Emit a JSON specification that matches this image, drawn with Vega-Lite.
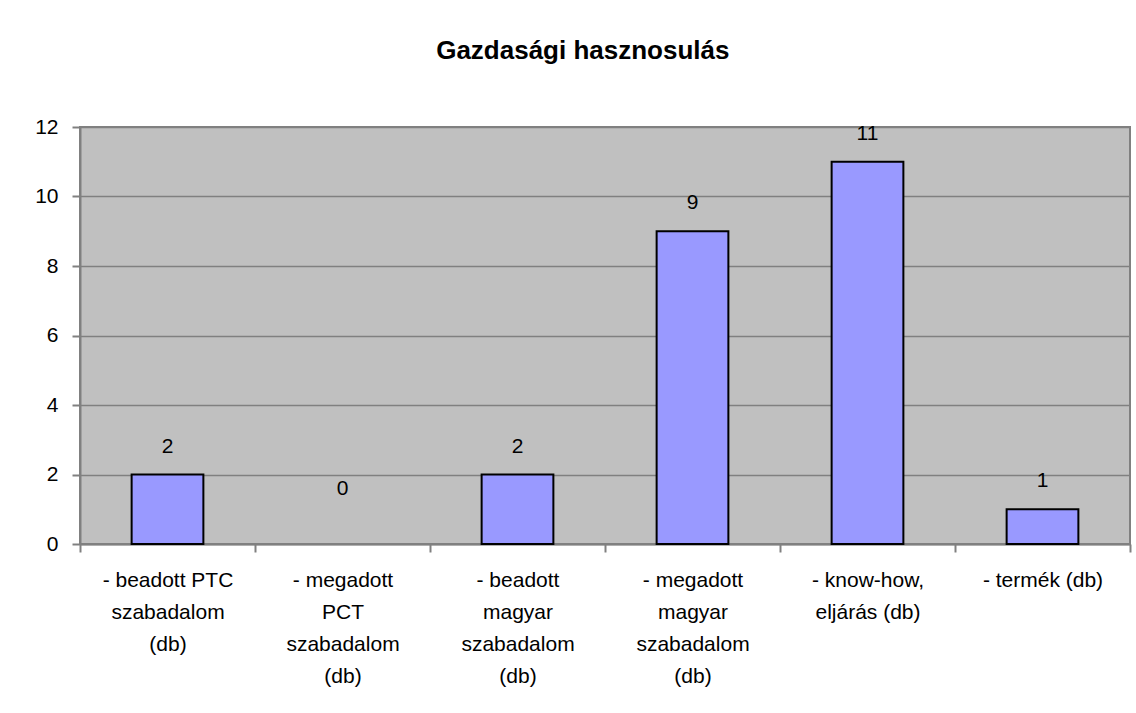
{
  "$schema": "https://vega.github.io/schema/vega-lite/v6.json",
  "width": 1050,
  "height": 417,
  "autosize": {"type": "none"},
  "padding": {"left": 80, "top": 127, "right": 6, "bottom": 169},
  "background": "white",
  "title": {
    "text": "Gazdasági hasznosulás",
    "font": "Liberation Sans",
    "fontSize": 26,
    "fontWeight": "bold",
    "color": "black",
    "anchor": "middle",
    "frame": "bounds",
    "offset": 52
  },
  "config": {
    "view": {"fill": "#C0C0C0", "stroke": "#808080", "strokeWidth": 2},
    "font": "Liberation Sans"
  },
  "data": {
    "values": [
      {"cat": "- beadott PTC\nszabadalom\n(db)", "val": 2},
      {"cat": "- megadott\nPCT\nszabadalom\n(db)", "val": 0},
      {"cat": "- beadott\nmagyar\nszabadalom\n(db)", "val": 2},
      {"cat": "- megadott\nmagyar\nszabadalom\n(db)", "val": 9},
      {"cat": "- know-how,\neljárás (db)", "val": 11},
      {"cat": "- termék (db)", "val": 1}
    ]
  },
  "encoding": {
    "x": {
      "field": "cat",
      "type": "nominal",
      "sort": null,
      "scale": {"paddingInner": 0, "paddingOuter": 0},
      "axis": {
        "title": null,
        "labelAngle": 0,
        "labelExpr": "datum.value ? split(datum.value, '\\n') : ''",
        "labelFont": "Liberation Sans",
        "labelFontSize": 21,
        "labelColor": "black",
        "labelLineHeight": 32,
        "labelPadding": 17,
        "labelBaseline": "top",
        "tickSize": 8,
        "tickBand": "extent",
        "tickColor": "#808080",
        "tickWidth": 2,
        "domainColor": "#808080",
        "domainWidth": 2,
        "grid": false
      }
    },
    "y": {
      "field": "val",
      "type": "quantitative",
      "scale": {"domain": [0, 12]},
      "axis": {
        "title": null,
        "values": [0, 2, 4, 6, 8, 10, 12],
        "labelFont": "Liberation Sans",
        "labelFontSize": 21,
        "labelColor": "black",
        "labelPadding": 14,
        "tickSize": 8,
        "tickColor": "#808080",
        "tickWidth": 2,
        "domainColor": "#808080",
        "domainWidth": 2,
        "grid": true,
        "gridColor": "#808080",
        "gridWidth": 1.5,
        "gridOpacity": 1
      }
    }
  },
  "layer": [
    {
      "mark": {"type": "bar", "width": {"band": 0.41}, "fill": "#9999FF", "stroke": "black", "strokeWidth": 2},
      "encoding": {
        "strokeOpacity": {"condition": {"test": "datum.val == 0", "value": 0}, "value": 1}
      }
    },
    {
      "transform": [{"filter": "datum.val > 0"}],
      "mark": {"type": "text", "baseline": "bottom", "dy": -18, "fontSize": 21, "font": "Liberation Sans", "color": "black"},
      "encoding": {"text": {"field": "val", "type": "quantitative"}}
    },
    {
      "transform": [{"filter": "datum.val == 0"}],
      "mark": {"type": "text", "baseline": "bottom", "dy": -45, "fontSize": 21, "font": "Liberation Sans", "color": "black"},
      "encoding": {"text": {"field": "val", "type": "quantitative"}}
    }
  ]
}
